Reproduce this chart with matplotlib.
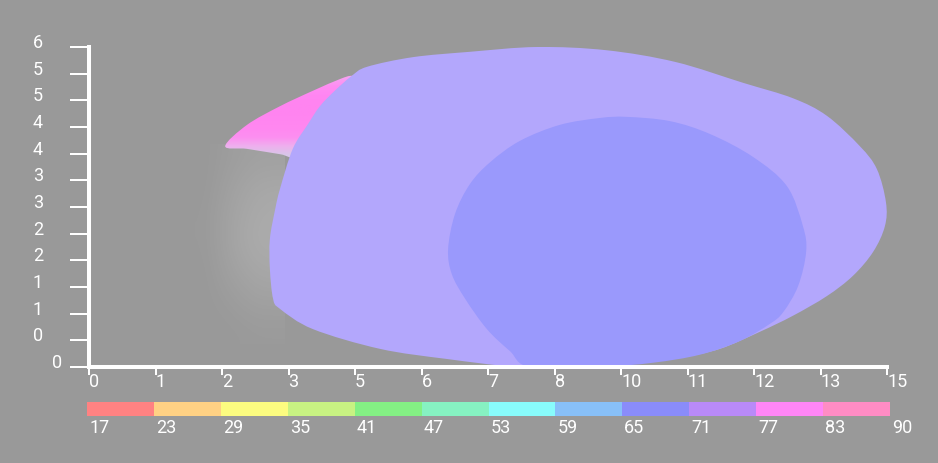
import numpy as np
import matplotlib
matplotlib.use('Agg')
import matplotlib.pyplot as plt
from matplotlib.patches import PathPatch
from matplotlib.path import Path

# axis ticks and labels (labels are truncated tick values, as in the original)
x_ticks = [0, 1.25, 2.5, 3.75, 5, 6.25, 7.5, 8.75, 10, 11.25, 12.5, 13.75, 15]
x_labels = ['0', '1', '2', '3', '5', '6', '7', '8', '10', '11', '12', '13', '15']
y_ticks = [0, 0.5, 1, 1.5, 2, 2.5, 3, 3.5, 4, 4.5, 5, 5.5, 6]
y_labels = ['0', '0', '1', '1', '2', '2', '3', '3', '4', '4', '5', '5', '6']

# colour scale
levels = ['17', '23', '29', '35', '41', '47', '53', '59', '65', '71', '77', '83', '90']
level_colors = ['#ff8282', '#ffd184', '#fcfc80', '#c8f282', '#84f084', '#86f2c2',
                '#88fcfc', '#88c0f8', '#8a8cfa', '#b98af8', '#ff86f6', '#ff8cc4']

# contour regions (x, y in data units)
outer_x = [4.94, 5.23, 6.09, 7.16, 8.42, 9.72, 11.02, 12.29, 13.23, 13.87, 14.49, 14.81,
           14.98, 14.96, 14.74, 14.36, 13.87, 13.23, 12.61, 11.86, 11.11, 10.36, 9.61,
           8.10, 6.73, 5.47, 4.21, 3.59, 3.46, 3.40, 3.40, 3.50, 3.59, 3.83, 4.12, 4.34, 4.62]
outer_y = [5.46, 5.63, 5.81, 5.91, 6.00, 5.94, 5.72, 5.33, 5.04, 4.71, 4.14, 3.71,
           3.09, 2.64, 2.16, 1.71, 1.33, 0.96, 0.66, 0.34, 0.17, 0.08, 0.00,
           0.00, 0.15, 0.34, 0.71, 1.09, 1.28, 1.84, 2.40, 2.96, 3.34, 4.09, 4.56, 4.89, 5.18]

inner_x = [6.75, 6.88, 7.16, 7.54, 8.10, 8.85, 9.61, 10.11, 10.92, 11.67, 12.48, 13.12,
           13.42, 13.48, 13.33, 13.05, 12.80, 12.24, 11.48, 10.60, 9.61, 8.29, 7.91,
           7.48, 7.07, 6.82]
inner_y = [2.21, 2.87, 3.43, 3.84, 4.24, 4.54, 4.67, 4.69, 4.61, 4.37, 3.94, 3.39,
           2.64, 2.16, 1.52, 1.03, 0.81, 0.49, 0.23, 0.08, 0.00, 0.00, 0.30,
           0.71, 1.28, 1.74]

pink_x = [2.56, 2.97, 3.59, 4.21, 4.72, 4.94, 5.13, 4.53, 3.97, 3.59, 2.97]
pink_y = [4.14, 4.54, 4.89, 5.18, 5.40, 5.46, 5.40, 4.46, 3.94, 3.99, 4.09]
# shading of the pink band, top to bottom
pink_shade = ['#f8a0f2', '#ff8cf2', '#ff86f2', '#ff84f0', '#ff84f0', '#ff86f0',
              '#ff88f0', '#fc90f0', '#eeb0ee', '#d8c6e8']

# light glow left of the main region (white, alpha), rows top to bottom
glow = [[0.00, 0.03, 0.06, 0.08, 0.08],
        [0.00, 0.05, 0.10, 0.14, 0.15],
        [0.01, 0.07, 0.13, 0.17, 0.18],
        [0.01, 0.07, 0.14, 0.18, 0.18],
        [0.00, 0.05, 0.10, 0.14, 0.15],
        [0.00, 0.02, 0.05, 0.08, 0.08],
        [0.00, 0.00, 0.01, 0.02, 0.02]]

bg = '#999999'
fnt = dict(family=['Roboto', 'DejaVu Sans'], fontsize=13, color='white')


def smooth_path(xs, ys):
    # closed Catmull-Rom curve through the read outline points
    p = np.column_stack([xs, ys])
    n = len(p)
    verts = [p[0]]
    codes = [Path.MOVETO]
    for i in range(n):
        p0, p1, p2, p3 = p[i - 1], p[i], p[(i + 1) % n], p[(i + 2) % n]
        verts += [p1 + (p2 - p0) / 6, p2 - (p3 - p1) / 6, p2]
        codes += [Path.CURVE4] * 3
    return Path(verts, codes)


fig = plt.figure(figsize=(9.38, 4.64), dpi=100, facecolor=bg)
ax = fig.add_axes([89 / 938, 1 - 368 / 464, 798 / 938, 320 / 464])
ax.set_facecolor('none')
ax.set_xlim(0, 15)
ax.set_ylim(0, 6)

g = np.array(glow)
rgba = np.ones((g.shape[0], g.shape[1], 4))
rgba[..., 3] = g
ax.imshow(rgba, extent=[1.99, 3.68, 0.43, 4.18], interpolation='bicubic',
          aspect='auto', zorder=1)

pink = PathPatch(smooth_path(pink_x, pink_y), facecolor='none', edgecolor='none', zorder=2)
ax.add_patch(pink)
shade = np.array([matplotlib.colors.to_rgb(c) for c in pink_shade])[:, None, :]
im = ax.imshow(shade, extent=[2.5, 5.2, 3.90, 5.49], interpolation='bilinear',
               aspect='auto', zorder=2)
im.set_clip_path(pink)

ax.add_patch(PathPatch(smooth_path(outer_x, outer_y), facecolor='#b3a7fc', lw=0, zorder=3))
ax.add_patch(PathPatch(smooth_path(inner_x, inner_y), facecolor='#9a99fc', lw=0, zorder=4))

for s in ['top', 'right']:
    ax.spines[s].set_visible(False)
for s in ['left', 'bottom']:
    ax.spines[s].set_color('white')
    ax.spines[s].set_linewidth(2.9)
    ax.spines[s].set_zorder(6)

ax.set_xticks(x_ticks)
ax.set_yticks(y_ticks)
ax.set_xticklabels([])
ax.set_yticklabels([])
ax.tick_params(axis='y', direction='out', length=13.7, width=1.44, color='white')
ax.tick_params(axis='x', direction='out', length=5.8, width=1.44, color='white')

for xv, lab in zip(x_ticks, x_labels):
    ax.text(xv, -0.059, lab, transform=ax.get_xaxis_transform(), ha='left',
            va='baseline', **fnt)
for i, (yv, lab) in enumerate(zip(y_ticks, y_labels)):
    xpos = -0.0338 if i == 0 else -0.0576
    ax.text(xpos, yv, lab, transform=ax.get_yaxis_transform(), ha='right',
            va='baseline', **fnt)

# colour scale bar
cax = fig.add_axes([87 / 938, 1 - 417 / 464, 803 / 938, 14 / 464])
cax.set_axis_off()
cax.bar(np.arange(len(level_colors)), 1, width=1, align='edge', color=level_colors, lw=0)
cax.set_xlim(0, len(level_colors))
cax.set_ylim(0, 1)
for i, lab in enumerate(levels):
    cax.text(i + 0.03, -1.14, lab, transform=cax.get_xaxis_transform(), ha='left',
             va='baseline', **fnt)

fig.savefig('out.png', dpi=100, facecolor=bg)
